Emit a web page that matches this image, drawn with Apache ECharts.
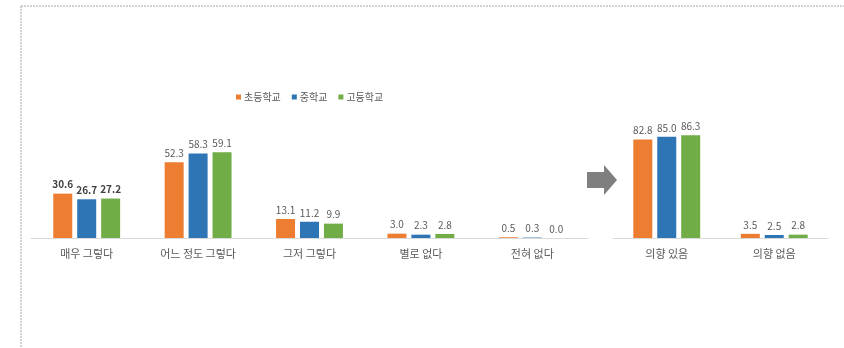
<!DOCTYPE html>
<html><head><meta charset="utf-8">
<script src="https://cdn.jsdelivr.net/npm/echarts@6/dist/echarts.min.js"></script>
<style>html,body{margin:0;padding:0;background:#fff}#c{width:844px;height:348px}</style>
</head><body><div id="c"></div>
<script>
const seriesNames = ['초등학교', '중학교', '고등학교'];
const leftCategories = ['매우 그렇다', '어느 정도 그렇다', '그저 그렇다', '별로 없다', '전혀 없다'];
const leftElem = [30.6, 52.3, 13.1, 3.0, 0.5];
const leftMid = [26.7, 58.3, 11.2, 2.3, 0.3];
const leftHigh = [27.2, 59.1, 9.9, 2.8, 0.0];
const rightCategories = ['의향 있음', '의향 없음'];
const rightElem = [82.8, 3.5];
const rightMid = [85.0, 2.5];
const rightHigh = [86.3, 2.8];

const colors = ['#ED7D31', '#2E75B6', '#70AD47'];
const FONT = '"Noto Sans CJK KR", "Noto Sans", sans-serif';

function mkData(arr) {
  return arr.map((v, i) => i === 0 && arr.length === 5
    ? { value: v, label: { fontWeight: 'bold', color: '#404040' } }
    : v);
}
function mkSeries(name, data, idx, color) {
  return {
    name: name, type: 'bar', xAxisIndex: idx, yAxisIndex: idx,
    data: mkData(data), barWidth: 19, barGap: '26%',
    itemStyle: { color: color },
    label: { show: true, position: 'top', distance: 4, fontSize: 10, color: '#595959',
      fontFamily: FONT, formatter: p => Number(p.value).toFixed(1) },
    emphasis: { disabled: true }
  };
}
const chart = echarts.init(document.getElementById('c'));
const axisCommon = {
  type: 'category',
  axisLine: { lineStyle: { color: '#d9d9d9', width: 1 } },
  axisTick: { show: false },
  axisLabel: { color: '#595959', fontSize: 11, fontFamily: FONT, margin: 10 }
};
chart.setOption({
  animation: false,
  color: colors,
  textStyle: { fontFamily: FONT },
  legend: {
    data: seriesNames, left: 231, top: 87, itemWidth: 5, itemHeight: 5, itemGap: 11,
    icon: 'rect', textStyle: { fontSize: 10, color: '#595959', fontFamily: FONT, padding: [0,0,0,-2] }
  },
  grid: [
    { left: 31, width: 557, top: 136.5, height: 101.5 },
    { left: 613, width: 215, top: 119, height: 119 }
  ],
  xAxis: [
    Object.assign({ gridIndex: 0, data: leftCategories }, axisCommon),
    Object.assign({ gridIndex: 1, data: rightCategories }, axisCommon)
  ],
  yAxis: [
    { gridIndex: 0, type: 'value', min: 0, max: 70, show: false },
    { gridIndex: 1, type: 'value', min: 0, max: 100, show: false }
  ],
  series: [
    mkSeries(seriesNames[0], leftElem, 0, colors[0]),
    mkSeries(seriesNames[1], leftMid, 0, colors[1]),
    mkSeries(seriesNames[2], leftHigh, 0, colors[2]),
    mkSeries(seriesNames[0], rightElem, 1, colors[0]),
    mkSeries(seriesNames[1], rightMid, 1, colors[1]),
    mkSeries(seriesNames[2], rightHigh, 1, colors[2])
  ],
  graphic: [
    { type: 'line', shape: { x1: 21, y1: 6, x2: 844, y2: 6 }, style: { stroke: '#a6a6a6', lineWidth: 1, lineDash: [2, 1] } },
    { type: 'line', shape: { x1: 21, y1: 6, x2: 21, y2: 348 }, style: { stroke: '#a6a6a6', lineWidth: 1, lineDash: [2, 1] } },
    { type: 'polygon', shape: { points: [[587,172],[604,172],[604,165],[617,180],[604,195],[604,188],[587,188]] },
      style: { fill: '#7f7f7f' } }
  ]
});
</script></body></html>
